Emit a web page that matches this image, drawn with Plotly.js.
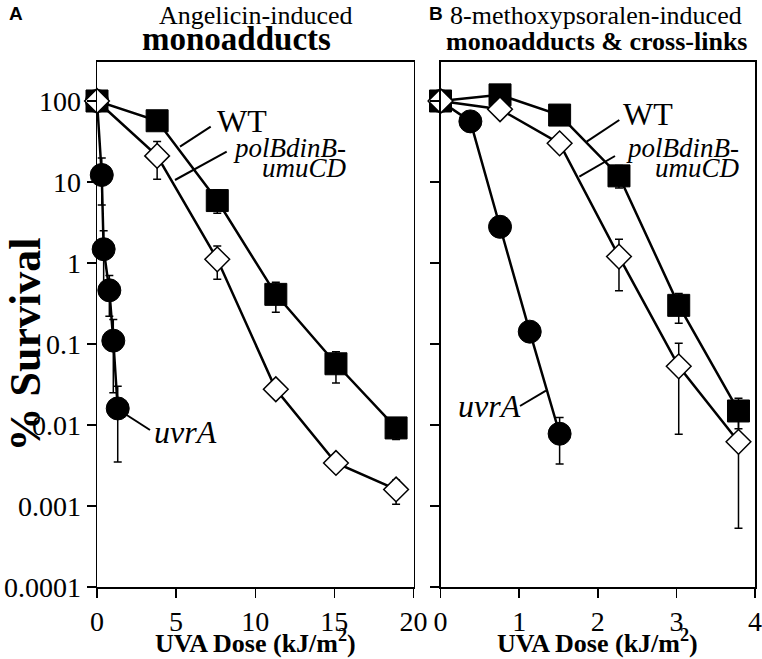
<!DOCTYPE html>
<html>
<head>
<meta charset="utf-8">
<script src="https://cdn.plot.ly/plotly-3.0.1.min.js"></script>
<style>html,body{margin:0;padding:0;background:#fff;}#chart{width:762px;height:659px;}</style>
</head>
<body>
<div id="chart"></div>
<script>
// ---------- Data ----------
// Panel A: Angelicin-induced monoadducts (UVA dose, kJ/m^2)
const doseA = [0, 3.8, 7.6, 11.3, 15.1, 18.9];
const wtA = [100, 57, 5.9, 0.41, 0.057, 0.0092];
const wtA_hi = [null, null, 8.0, 0.58, 0.08, 0.012];
const wtA_lo = [null, null, 4.1, 0.246, 0.033, 0.0066];
const polA = [100, 21, 1.11, 0.0276, 0.0034, 0.0016];
const polA_hi = [null, 31.5, 1.62, null, null, 0.0021];
const polA_lo = [null, 10.8, 0.63, null, null, 0.00105];
const doseUvrA = [0, 0.3, 0.42, 0.78, 1.03, 1.31];
const uvrA_A = [100, 12.2, 1.48, 0.46, 0.11, 0.016];
const uvrA_A_hi = [null, 19.8, 2.5, 0.7, 0.2, 0.03];
const uvrA_A_lo = [null, 5.2, 0.5, 0.22, 0.025, 0.0035];

// Panel B: 8-methoxypsoralen-induced monoadducts & cross-links
const doseB = [0, 0.757, 1.515, 2.27, 3.03, 3.79];
const wtB = [100, 119, 67, 11.9, 0.30, 0.0149];
const wtB_hi = [null, null, null, 16, 0.42, 0.0214];
const wtB_lo = [null, null, null, 8.4, 0.18, 0.009];
const polB = [100, 79, 30, 1.2, 0.053, 0.0062];
const polB_hi = [null, null, null, 1.96, 0.102, 0.012];
const polB_lo = [null, null, null, 0.455, 0.0077, 0.00053];
const doseUvrB = [0, 0.38, 0.757, 1.135, 1.515];
const uvrA_B = [100, 56, 2.8, 0.142, 0.0078];
const uvrA_B_hi = [null, null, null, null, 0.0124];
const uvrA_B_lo = [null, null, null, null, 0.0033];

const yTickVals = [0.0001, 0.001, 0.01, 0.1, 1, 10, 100];
const yTickText = ['0.0001', '0.001', '0.01', '0.1', '1', '10', '100'];
const xTickA = [0, 5, 10, 15, 20];
const xTickB = [0, 1, 2, 3, 4];

// ---------- Helpers ----------
const W = 762, H = 659;
const px = x => x / W;
const py = y => 1 - y / H;
const SERIF = 'Liberation Serif';
const SANS = 'Liberation Sans';

function errs(y, hi, lo) {
  return {
    type: 'data', symmetric: false, visible: true,
    array: y.map((v, i) => hi[i] == null ? NaN : hi[i] - v),
    arrayminus: y.map((v, i) => lo[i] == null ? NaN : v - lo[i]),
    color: '#000', thickness: 1.5, width: 4
  };
}

const lineStyle = {color: '#000', width: 2.5};
const sq = {symbol: 'square', size: 22, color: '#000', line: {color: '#000', width: 1}};
const ci = {symbol: 'circle', size: 23, color: '#000', line: {color: '#000', width: 1}};
const di = {symbol: 'diamond', size: 19, color: '#fff', line: {color: '#000', width: 1.5}};

function tr(x, y, hi, lo, marker, xa, ya) {
  return {x: x, y: y, xaxis: xa, yaxis: ya, type: 'scatter', mode: 'lines+markers',
    line: lineStyle, marker: marker, error_y: errs(y, hi, lo), cliponaxis: false,
    showlegend: false, hoverinfo: 'x+y'};
}

const data = [
  tr(doseA, wtA, wtA_hi, wtA_lo, sq, 'x', 'y'),
  tr(doseUvrA, uvrA_A, uvrA_A_hi, uvrA_A_lo, ci, 'x', 'y'),
  tr(doseA, polA, polA_hi, polA_lo, di, 'x', 'y'),
  tr(doseB, wtB, wtB_hi, wtB_lo, sq, 'x2', 'y2'),
  tr(doseUvrB, uvrA_B, uvrA_B_hi, uvrA_B_lo, ci, 'x2', 'y2'),
  tr(doseB, polB, polB_hi, polB_lo, di, 'x2', 'y2')
];

const yDomain = [py(587), py(61.7)];
const axBase = {
  showgrid: false, zeroline: false, showline: true, mirror: true,
  linecolor: '#000', linewidth: 1.5, ticks: 'outside', ticklen: 9, tickwidth: 1.5,
  tickcolor: '#000', tickfont: {family: SERIF, size: 28, color: '#000'}
};

const layout = {
  width: W, height: H,
  margin: {l: 0, r: 0, t: 0, b: 0},
  paper_bgcolor: '#fff', plot_bgcolor: '#fff',
  font: {family: SERIF, color: '#000'},
  showlegend: false,
  xaxis: Object.assign({}, axBase, {domain: [px(97), px(413.5)], range: [0, 20], tickvals: xTickA, anchor: 'y'}),
  yaxis: Object.assign({}, axBase, {domain: yDomain, type: 'log', range: [-4, 2.485], tickvals: yTickVals, ticktext: yTickText, anchor: 'x'}),
  xaxis2: Object.assign({}, axBase, {domain: [px(440.5), px(755)], range: [0, 4], tickvals: xTickB, anchor: 'y2'}),
  yaxis2: Object.assign({}, axBase, {domain: yDomain, type: 'log', range: [-4, 2.485], tickvals: yTickVals, showticklabels: false, anchor: 'x2'}),
  annotations: [],
  shapes: []
};

function ann(text, x, y, size, opts) {
  const o = opts || {};
  layout.annotations.push(Object.assign({
    text: text, xref: 'paper', yref: 'paper', x: px(x), y: py(y),
    xanchor: 'center', yanchor: 'middle', showarrow: false,
    font: {family: o.family || SERIF, size: size, color: '#000',
           weight: o.weight || 'normal', style: o.style || 'normal'}
  }, o.extra || {}));
}
function leader(x0, y0, x1, y1) {
  layout.shapes.push({type: 'line', xref: 'paper', yref: 'paper',
    x0: px(x0), y0: py(y0), x1: px(x1), y1: py(y1), line: {color: '#000', width: 2}});
}

// Panel letters and titles
ann('A', 16, 14, 19, {family: SANS, weight: 'bold'});
ann('B', 436, 14, 19, {family: SANS, weight: 'bold'});
ann('Angelicin-induced', 256, 16, 26);
ann('monoadducts', 236, 39, 33, {weight: 'bold'});
ann('8-methoxypsoralen-induced', 596, 16, 26);
ann('monoadducts &amp; cross-links', 596, 41, 26, {weight: 'bold'});

// Axis titles
ann('UVA Dose (kJ/m<sup>2</sup>)', 255, 641, 26, {weight: 'bold'});
ann('UVA Dose (kJ/m<sup>2</sup>)', 597, 641, 26, {weight: 'bold'});
ann('% Survival', 24.5, 345, 44, {weight: 'bold', extra: {textangle: -90}});

// Series labels, panel A
ann('WT', 242, 121, 32);
leader(180, 146.7, 210.7, 126.7);
ann('polBdinB-', 348, 148, 27, {style: 'italic', extra: {xanchor: 'right'}});
ann('umuCD', 349, 168, 27, {style: 'italic', extra: {xanchor: 'right'}});
leader(175, 180, 226.7, 151.7);
ann('uvrA', 152, 432, 32, {style: 'italic', extra: {xanchor: 'left'}});
leader(126.7, 415, 150, 430);

// Series labels, panel B
ann('WT', 648, 114, 32);
leader(586.7, 141.7, 619.3, 120);
ann('polBdinB-', 741, 148, 27, {style: 'italic', extra: {xanchor: 'right'}});
ann('umuCD', 742, 168, 27, {style: 'italic', extra: {xanchor: 'right'}});
leader(579.3, 176.7, 615, 156);
ann('uvrA', 489, 406, 32, {style: 'italic'});
leader(520, 406, 546, 390.7);

Plotly.newPlot('chart', data, layout, {staticPlot: true, displayModeBar: false});
</script>
</body>
</html>
